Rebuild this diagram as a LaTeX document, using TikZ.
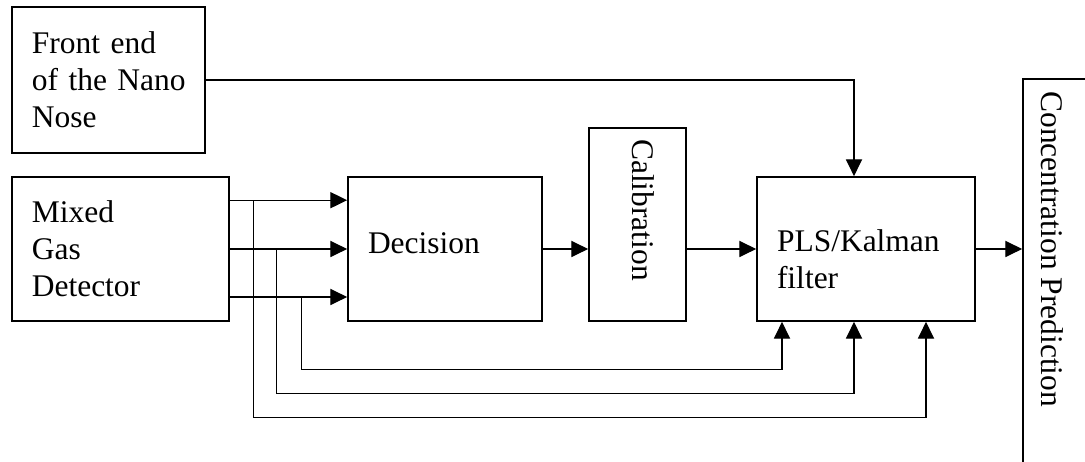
\documentclass[tikz,border=0pt]{standalone}
\usepackage{fontspec}
\setmainfont{Liberation Serif}
\usetikzlibrary{arrows.meta,calc}

\begin{document}
\begin{tikzpicture}[
    box/.style={draw, line width=1.2pt, inner xsep=0.5cm, inner ysep=0pt, align=left, font=\fontsize{22.4}{26.3}\selectfont},
    lbl/.style={inner sep=0pt, font=\fontsize{22.4}{26.3}\selectfont},
    arr/.style={-{Triangle[length=12pt,width=11.5pt]}, line width=0.9pt}
]
\useasboundingbox (0,0) rectangle (27.125,11.55);
\clip (0,0) rectangle (27.125,11.55);

% Inputs
\node[box, minimum height=3.65cm, text width=3.83cm] (front)  at (2.71, 9.55)  {Front~end\\of~the~Nano\\Nose};
\node[box, minimum height=3.6cm,  text width=4.43cm] (mixed)  at (3.01, 5.325) {Mixed\\Gas\\Detector};

% Processing
\node[box, minimum height=3.6cm,  text width=3.85cm, text depth=0.3cm] (decision) at (11.125, 5.325) {Decision};
\node[box, minimum width=2.43cm, minimum height=4.83cm] (calib) at (15.94, 5.94) {};
\node[lbl, rotate=-90, anchor=base west] (calibtxt) at ($(calib.north west)+(1.1,-0.3)$) {Calibration};
\node[box, minimum height=3.6cm,  text width=4.45cm, text height=1.05cm] (pls) at (21.65, 5.325) {PLS/Kalman\\filter};

% Output
\node[box, minimum width=2.55cm, minimum height=10.53cm] (conc) at (26.85, 4.31) {};
\node[lbl, rotate=-90, anchor=base west] (conctxt) at ($(conc.north west)+(0.475,-0.325)$) {Concentration Prediction};

% Sensor outputs
\coordinate (m1) at ($(mixed.east)+(0,1.22)$);
\coordinate (m2) at (mixed.east);
\coordinate (m3) at ($(mixed.east)+(0,-1.2)$);

\draw[arr] (front.east) -| ($(pls.north)+(-0.3,0)$);
\draw[arr] (m1) -- (m1 -| decision.west);
\draw[arr] (m2) -- (m2 -| decision.west);
\draw[arr] (m3) -- (m3 -| decision.west);
\draw[arr] (decision.east) -- (decision.east -| calib.west);
\draw[arr] (pls.west -| calib.east) -- (pls.west);
\draw[arr] (pls.east) -- (pls.east -| conc.west);

% Bypass to the filter
\draw[arr] ($(m1)+(0.6,0)$)   |- ($(pls.south)+(1.5,-2.4)$)  -- ($(pls.south)+(1.5,0)$);
\draw[arr] ($(m2)+(1.175,0)$) |- ($(pls.south)+(-0.3,-1.8)$) -- ($(pls.south)+(-0.3,0)$);
\draw[arr] ($(m3)+(1.8,0)$)   |- ($(pls.south)+(-2.1,-1.2)$) -- ($(pls.south)+(-2.1,0)$);
\end{tikzpicture}
\end{document}
